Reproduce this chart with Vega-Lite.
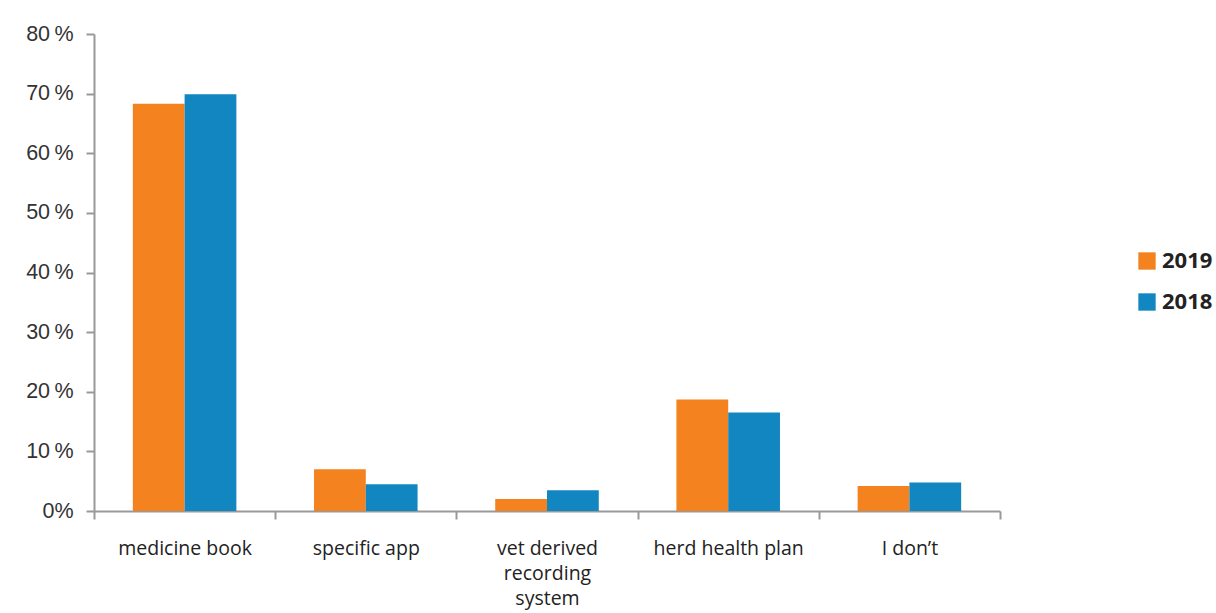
{
  "$schema": "https://vega.github.io/schema/vega-lite/v6.json",
  "width": 906,
  "height": 477,
  "autosize": "none",
  "padding": {"left": 94, "top": 34, "right": 216, "bottom": 102},
  "background": "white",
  "config": {"view": {"stroke": null}},
  "data": {
    "values": [
      {"category": "medicine book", "year": "2019", "value": 68.3},
      {"category": "medicine book", "year": "2018", "value": 69.9},
      {"category": "specific app", "year": "2019", "value": 7.0},
      {"category": "specific app", "year": "2018", "value": 4.5},
      {"category": "vet derived recording system", "year": "2019", "value": 2.0},
      {"category": "vet derived recording system", "year": "2018", "value": 3.5},
      {"category": "herd health plan", "year": "2019", "value": 18.7},
      {"category": "herd health plan", "year": "2018", "value": 16.5},
      {"category": "I don’t", "year": "2019", "value": 4.2},
      {"category": "I don’t", "year": "2018", "value": 4.8}
    ]
  },
  "mark": {"type": "bar"},
  "encoding": {
    "x": {
      "field": "category",
      "type": "nominal",
      "sort": null,
      "scale": {"paddingInner": 0, "paddingOuter": 0},
      "axis": {
        "title": null,
        "labelAngle": 0,
        "tickBand": "extent",
        "domainColor": "#999999",
        "domainWidth": 2,
        "tickColor": "#999999",
        "tickWidth": 2,
        "tickSize": 8,
        "labelFont": "Open Sans",
        "labelFontSize": 19.5,
        "labelColor": "#222222",
        "labelPadding": 20,
        "labelLineHeight": 25,
        "labelBaseline": "top",
        "labelExpr": "datum.label == 'vet derived recording system' ? ['vet derived', 'recording', 'system'] : datum.label"
      }
    },
    "xOffset": {
      "field": "year",
      "type": "nominal",
      "sort": ["2019", "2018"],
      "scale": {"paddingInner": 0, "paddingOuter": 0.75}
    },
    "y": {
      "field": "value",
      "type": "quantitative",
      "scale": {"domain": [0, 80], "nice": false},
      "axis": {
        "title": null,
        "values": [0, 10, 20, 30, 40, 50, 60, 70, 80],
        "labelExpr": "datum.value == 0 ? '0%' : datum.value + '\u2009%'",
        "grid": false,
        "domainColor": "#999999",
        "domainWidth": 2,
        "tickColor": "#999999",
        "tickWidth": 2,
        "tickSize": 8,
        "labelFont": "Liberation Sans",
        "labelFontSize": 21.5,
        "labelColor": "#333333",
        "labelPadding": 13
      }
    },
    "color": {
      "field": "year",
      "type": "nominal",
      "sort": ["2019", "2018"],
      "scale": {"domain": ["2019", "2018"], "range": ["#F4821F", "#1286C0"]},
      "legend": {
        "title": null,
        "orient": "none",
        "legendX": 1042,
        "legendY": 216,
        "symbolType": "square",
        "symbolSize": 300,
        "symbolStrokeWidth": 0,
        "labelFont": "Open Sans",
        "labelFontSize": 22,
        "labelFontWeight": "bold",
        "labelColor": "#222222",
        "labelOffset": 4,
        "rowPadding": 19
      }
    }
  }
}
